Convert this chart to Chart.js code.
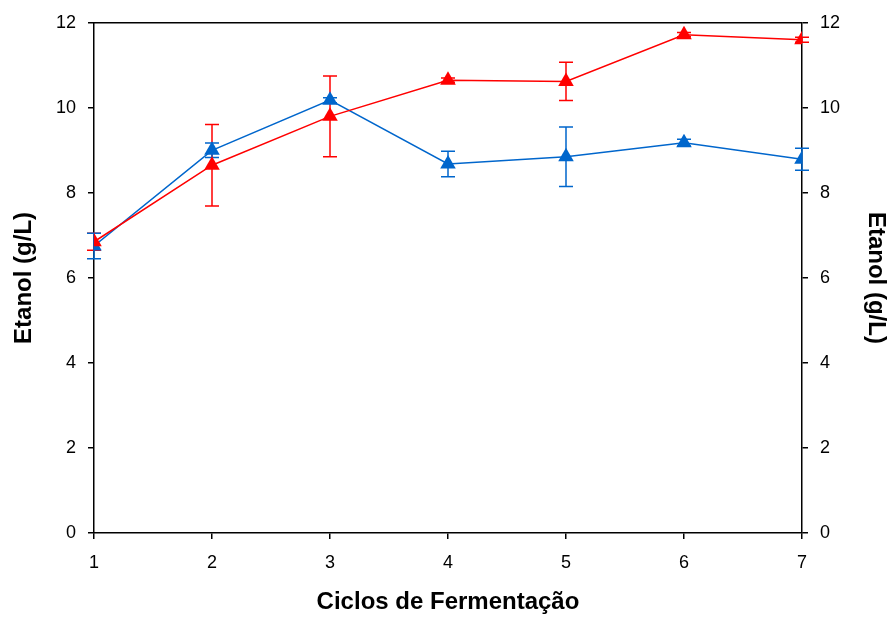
<!DOCTYPE html>
<html>
<head>
<meta charset="utf-8">
<script src="https://cdn.jsdelivr.net/npm/chart.js@4.4.1/dist/chart.umd.min.js"></script>
<style>
  html, body { margin: 0; padding: 0; background: #fff; }
  #wrap { width: 888px; height: 617px; }
</style>
</head>
<body>
<div id="wrap"><canvas id="chart" width="888" height="617"></canvas></div>
<script>
// --- datos ---
const ciclos = [1, 2, 3, 4, 5, 6, 7];
const etanolRojo = [6.85, 8.65, 9.8, 10.65, 10.62, 11.72, 11.6];
const errorRojo = [0.2, 0.96, 0.95, 0.05, 0.45, 0.05, 0.06];
const etanolAzul = [6.75, 9.0, 10.18, 8.68, 8.85, 9.18, 8.79];
const errorAzul = [0.3, 0.17, 0.06, 0.3, 0.7, 0.08, 0.26];
const yTicks = [0, 2, 4, 6, 8, 10, 12];

const ROJO = '#FF0000';
const AZUL = '#0066CC';
const FONT = 'Liberation Sans, Arial, sans-serif';

const toPoints = (vals) => ciclos.map((c, i) => ({ x: c, y: vals[i] }));

// barras de error dibujadas con las escalas del gráfico
const errorBars = {
    id: 'errorBars',
    beforeDatasetsDraw(chart) {
        const { ctx, scales: { x, y } } = chart;
        const series = [
            { vals: etanolRojo, errs: errorRojo, color: ROJO },
            { vals: etanolAzul, errs: errorAzul, color: AZUL }
        ];
        ctx.save();
        ctx.lineWidth = 1.5;
        series.forEach(s => {
            ctx.strokeStyle = s.color;
            ciclos.forEach((c, i) => {
                const px = x.getPixelForValue(c);
                const top = y.getPixelForValue(s.vals[i] + s.errs[i]);
                const bot = y.getPixelForValue(s.vals[i] - s.errs[i]);
                ctx.beginPath();
                ctx.moveTo(px, top); ctx.lineTo(px, bot);
                ctx.moveTo(px - 7, top); ctx.lineTo(px + 7, top);
                ctx.moveTo(px - 7, bot); ctx.lineTo(px + 7, bot);
                ctx.stroke();
            });
        });
        ctx.restore();
    }
};

// línea superior del marco
const frameTop = {
    id: 'frameTop',
    afterDraw(chart) {
        const { ctx, chartArea: a } = chart;
        ctx.save();
        ctx.strokeStyle = '#000';
        ctx.lineWidth = 1.5;
        ctx.beginPath();
        ctx.moveTo(a.left, a.top); ctx.lineTo(a.right, a.top);
        ctx.stroke();
        ctx.restore();
    }
};

const yAxis = (position, titlePad) => ({
    type: 'linear',
    position,
    min: 0, max: 12,
    afterBuildTicks: (s) => { s.ticks = yTicks.map(v => ({ value: v })); },
    afterFit: (s) => { s.width = position === 'left' ? 94 : 86; },
    grid: { display: true, drawOnChartArea: false, drawTicks: true, tickLength: 6, color: '#000', lineWidth: 1.5 },
    border: { display: true, color: '#000', width: 1.5 },
    ticks: { color: '#000', font: { family: FONT, size: 18 }, padding: 12 },
    title: {
        display: true, text: 'Etanol (g/L)', color: '#000',
        font: { family: FONT, size: 24, weight: 'bold' },
        padding: { top: titlePad, bottom: 0 }
    }
});

new Chart(document.getElementById('chart'), {
    type: 'line',
    data: {
        datasets: [
            {
                data: toPoints(etanolRojo),
                borderColor: ROJO, backgroundColor: ROJO,
                borderWidth: 1.5, pointStyle: 'triangle', pointRadius: 9,
                pointBorderWidth: 0, tension: 0
            },
            {
                data: toPoints(etanolAzul),
                borderColor: AZUL, backgroundColor: AZUL,
                borderWidth: 1.5, pointStyle: 'triangle', pointRadius: 9,
                pointBorderWidth: 0, tension: 0
            }
        ]
    },
    options: {
        responsive: false,
        animation: false,
        layout: { padding: { top: 22, left: 0, right: 0, bottom: 0 } },
        plugins: { legend: { display: false }, tooltip: { enabled: false } },
        scales: {
            x: {
                type: 'linear', min: 1, max: 7,
                ticks: { stepSize: 1, color: '#000', font: { family: FONT, size: 18 }, padding: 13 },
                afterFit: (s) => { s.height = 84; },
                grid: { display: true, drawOnChartArea: false, drawTicks: true, tickLength: 6, color: '#000', lineWidth: 1.5 },
                border: { display: true, color: '#000', width: 1.5 },
                title: {
                    display: true, text: 'Ciclos de Fermentação', color: '#000',
                    font: { family: FONT, size: 24, weight: 'bold' },
                    padding: { top: -3, bottom: 0 }
                }
            },
            y: yAxis('left', 10),
            y2: yAxis('right', -2)
        }
    },
    plugins: [errorBars, frameTop]
});
</script>
</body>
</html>
